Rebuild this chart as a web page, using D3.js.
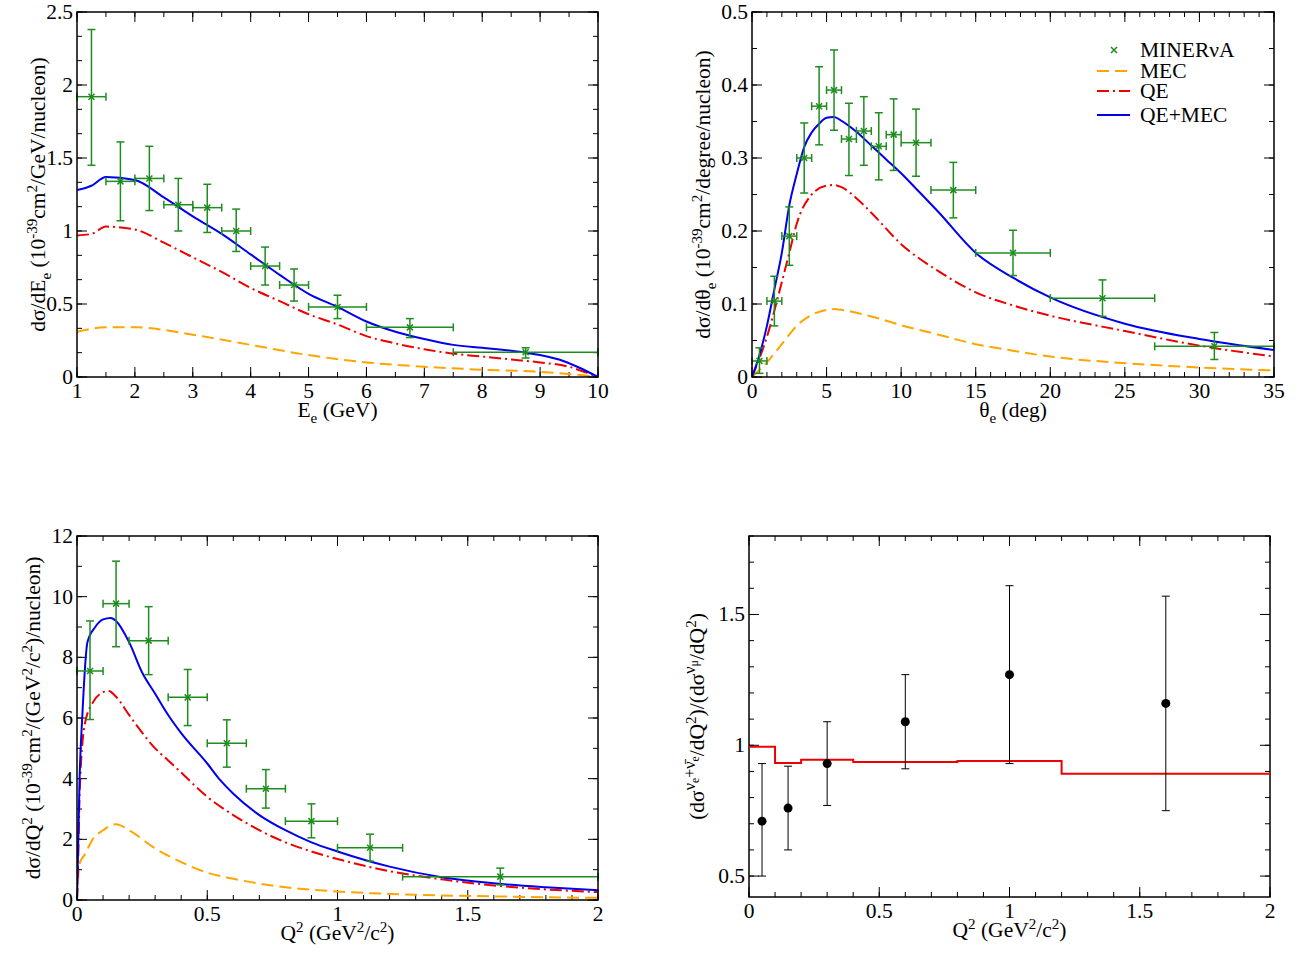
<!DOCTYPE html>
<html><head><meta charset="utf-8">
<script src="https://cdn.jsdelivr.net/npm/d3@7"></script>
<style>
body{margin:0;background:#fff;}
svg text{font-family:"Liberation Serif","Times New Roman","DejaVu Serif",serif;fill:#000;}
</style></head>
<body><svg id="svg" width="1308" height="967"></svg>
<script>
const GREEN = "#1e8c1e", BLUE = "#0000ee", RED = "#ee0000", ORANGE = "#ffa500";
const TICKFONT = 21.5, LABELFONT = 21.5;

// ---- panel 1: dsigma/dE_e
const eData = [[1.25,1.92,1,1.5,1.45,2.38],[1.75,1.34,1.5,2,1.07,1.61],[2.25,1.36,2,2.5,1.14,1.58],
  [2.75,1.18,2.5,3,1.00,1.36],[3.25,1.16,3,3.5,0.99,1.32],[3.75,1.00,3.5,4,0.86,1.15],
  [4.25,0.76,4,4.5,0.63,0.89],[4.75,0.63,4.5,5,0.52,0.74],[5.5,0.48,5,6,0.40,0.56],
  [6.75,0.34,6,7.5,0.27,0.40],[8.75,0.17,7.5,10,0.13,0.20]];
const eTot = [[1,1.28],[1.25,1.31],[1.5,1.37],[2,1.35],[2.5,1.23],[3,1.10],[3.5,0.98],[4,0.84],[4.5,0.70],
  [5,0.57],[5.5,0.48],[6,0.38],[6.5,0.31],[7,0.26],[7.5,0.22],[8,0.20],[8.5,0.18],[9,0.15],[9.4,0.11],[9.7,0.06],[10,0]];
const eQE = [[1,0.97],[1.25,0.98],[1.5,1.03],[2,1.01],[2.5,0.92],[3,0.82],[3.5,0.72],[4,0.61],[4.5,0.52],
  [5,0.43],[5.5,0.36],[6,0.28],[6.5,0.23],[7,0.19],[7.5,0.16],[8,0.14],[8.5,0.12],[9,0.10],[9.5,0.07],[9.8,0.03],[10,0]];
const eMEC = [[1,0.31],[1.5,0.34],[2,0.34],[3,0.29],[4,0.22],[5,0.15],[6,0.10],[7,0.07],[8,0.05],[9,0.035],[9.5,0.02],[10,0]];

// ---- panel 2: dsigma/dtheta_e
const tData = [[0.5,0.022,0,1,0.005,0.04],[1.5,0.104,1,2,0.07,0.138],[2.5,0.193,2,3,0.153,0.233],
  [3.5,0.300,3,4,0.252,0.348],[4.5,0.371,4,5,0.318,0.425],[5.5,0.393,5,6,0.338,0.448],
  [6.5,0.326,6,7,0.276,0.375],[7.5,0.337,7,8,0.290,0.384],[8.5,0.316,8,9,0.270,0.362],
  [9.5,0.332,9,10,0.283,0.381],[11,0.321,10,12,0.275,0.367],[13.5,0.256,12,15,0.218,0.294],
  [17.5,0.170,15,20,0.139,0.201],[23.5,0.108,20,27,0.083,0.133],[31,0.042,27,35,0.024,0.061]];
const tTot = [[0,0],[0.5,0.03],[1,0.07],[1.5,0.12],[2,0.17],[2.5,0.235],[3,0.278],[3.5,0.315],[4,0.335],[4.5,0.347],
  [5,0.355],[5.5,0.356],[6,0.351],[7,0.336],[8,0.317],[9,0.298],[10,0.279],[11,0.258],[12.5,0.226],[15,0.17],
  [17.5,0.136],[20,0.109],[25,0.073],[30,0.052],[35,0.037]];
const tQE = [[0,0],[1,0.055],[2,0.13],[2.5,0.17],[3,0.21],[4,0.25],[5,0.262],[5.5,0.263],[6,0.26],[7,0.245],
  [8,0.225],[10,0.182],[12.5,0.145],[15,0.116],[17.5,0.098],[20,0.084],[25,0.063],[30,0.043],[35,0.028]];
const tMEC = [[0,0],[1,0.02],[2,0.045],[3,0.07],[4,0.085],[5,0.092],[5.5,0.093],[6,0.092],[8,0.083],[10,0.071],
  [12.5,0.058],[15,0.045],[17.5,0.036],[20,0.028],[25,0.019],[30,0.013],[35,0.009]];

// ---- panel 3: dsigma/dQ2
const qData = [[0.05,7.55,0,0.1,5.95,9.2],[0.15,9.77,0.1,0.2,8.35,11.17],[0.275,8.55,0.2,0.35,7.43,9.67],
  [0.425,6.68,0.35,0.5,5.75,7.6],[0.575,5.17,0.5,0.65,4.38,5.94],[0.725,3.67,0.65,0.8,3.03,4.3],
  [0.9,2.6,0.8,1.0,2.05,3.17],[1.125,1.72,1,1.25,1.28,2.17],[1.625,0.77,1.25,2,0.5,1.05]];
const qTot = [[0,0],[0.005,2],[0.01,4],[0.02,6],[0.04,8.5],[0.07,9.0],[0.1,9.25],[0.13,9.3],[0.15,9.2],[0.2,8.5],
  [0.25,7.5],[0.3,6.8],[0.35,6.1],[0.4,5.5],[0.5,4.5],[0.55,3.95],[0.6,3.5],[0.7,2.8],[0.8,2.3],[0.9,1.9],[1,1.6],
  [1.2,1.1],[1.4,0.75],[1.6,0.55],[1.8,0.42],[2,0.32]];
const qQE = [[0,0],[0.005,1.5],[0.01,3.5],[0.03,5.8],[0.06,6.5],[0.1,6.85],[0.12,6.9],[0.15,6.7],[0.2,6.1],
  [0.3,5.0],[0.35,4.6],[0.4,4.2],[0.5,3.4],[0.6,2.8],[0.7,2.3],[0.8,1.9],[0.9,1.6],[1,1.35],[1.2,0.95],
  [1.4,0.68],[1.6,0.48],[1.8,0.35],[2,0.26]];
const qMEC = [[0,0],[0.01,1.2],[0.03,1.5],[0.06,2.0],[0.1,2.3],[0.15,2.5],[0.2,2.3],[0.3,1.7],[0.4,1.25],
  [0.5,0.9],[0.6,0.7],[0.8,0.42],[1,0.28],[1.2,0.2],[1.4,0.15],[1.6,0.12],[1.8,0.09],[2,0.07]];

// ---- panel 4: ratio
const rData = [[0.05,0.71,0.5,0.93],[0.15,0.76,0.6,0.92],[0.3,0.93,0.77,1.09],[0.6,1.09,0.91,1.27],
  [1.0,1.27,0.93,1.61],[1.6,1.16,0.75,1.57]];
const rBins = [0,0.1,0.2,0.4,0.8,1.2,2];
const rVals = [0.994,0.932,0.945,0.936,0.94,0.891];

const legendNames = ["MINERνA","MEC","QE","QE+MEC"];

const svg = d3.select("#svg");

function richText(g, parts, size) {
  // parts: [text, offset(px, negative = up), scale]
  const t = g.append("text").attr("font-size", size);
  let cur = 0;
  parts.forEach(([s, off, sc]) => {
    t.append("tspan").attr("dy", off - cur).attr("font-size", size * (sc || 1)).text(s);
    cur = off;
  });
  return t;
}

function panel(o) {
  const x = d3.scaleLinear().domain(o.xd).range([o.l, o.r]);
  const y = d3.scaleLinear().domain(o.yd).range([o.b, o.t]);
  const g = svg.append("g");
  const clipId = "c" + Math.round(o.l) + Math.round(o.t);
  g.append("clipPath").attr("id", clipId).append("rect")
    .attr("x", o.l).attr("y", o.t).attr("width", o.r - o.l).attr("height", o.b - o.t);

  // ticks on all sides, pointing inward
  const tk = (vals, len, axis) => vals.forEach(v => {
    if (axis === "x") {
      const px = x(v);
      g.append("line").attr("x1", px).attr("x2", px).attr("y1", o.b).attr("y2", o.b - len).attr("stroke", "#000");
      g.append("line").attr("x1", px).attr("x2", px).attr("y1", o.t).attr("y2", o.t + len).attr("stroke", "#000");
    } else {
      const py = y(v);
      g.append("line").attr("y1", py).attr("y2", py).attr("x1", o.l).attr("x2", o.l + len).attr("stroke", "#000");
      g.append("line").attr("y1", py).attr("y2", py).attr("x1", o.r).attr("x2", o.r - len).attr("stroke", "#000");
    }
  });
  const rng = (a, b, s) => d3.range(Math.ceil(a / s - 1e-6), Math.floor(b / s + 1e-6) + 1).map(i => +(i * s).toFixed(6));
  tk(rng(o.xd[0], o.xd[1], o.xminor), 5, "x");
  tk(rng(o.xd[0], o.xd[1], o.xmajor), 10, "x");
  tk(rng(o.yd[0], o.yd[1], o.yminor), 5, "y");
  tk(rng(o.yd[0], o.yd[1], o.ymajor), 10, "y");

  rng(o.xd[0], o.xd[1], o.xmajor).forEach(v => {
    g.append("text").attr("x", x(v)).attr("y", o.b + 21).attr("text-anchor", "middle")
      .attr("font-size", TICKFONT).text(d3.format("~g")(v));
  });
  rng(o.yd[0], o.yd[1], o.ymajor).forEach(v => {
    g.append("text").attr("x", o.l - 4).attr("y", y(v) + 7).attr("text-anchor", "end")
      .attr("font-size", TICKFONT).text(d3.format("~g")(v));
  });

  const plot = g.append("g").attr("clip-path", `url(#${clipId})`);
  const line = d3.line().x(d => x(d[0])).y(d => y(d[1])).curve(d3.curveMonotoneX);
  if (o.mec) plot.append("path").attr("d", line(o.mec)).attr("fill", "none").attr("stroke", ORANGE)
    .attr("stroke-width", 2).attr("stroke-dasharray", "12,6");
  if (o.qe) plot.append("path").attr("d", line(o.qe)).attr("fill", "none").attr("stroke", RED)
    .attr("stroke-width", 2).attr("stroke-dasharray", "12,4,2,4");
  if (o.tot) plot.append("path").attr("d", line(o.tot)).attr("fill", "none").attr("stroke", BLUE).attr("stroke-width", 2);

  if (o.data) {
    const dg = g.append("g").attr("stroke", GREEN).attr("stroke-width", 1.5);
    o.data.forEach(d => {
      const cx = x(d[0]), cy = y(d[1]);
      dg.append("line").attr("x1", x(d[2])).attr("x2", x(d[3])).attr("y1", cy).attr("y2", cy);
      dg.append("line").attr("x1", cx).attr("x2", cx).attr("y1", y(d[4])).attr("y2", y(d[5]));
      [d[2], d[3]].forEach(v => dg.append("line").attr("x1", x(v)).attr("x2", x(v)).attr("y1", cy - 4).attr("y2", cy + 4));
      [d[4], d[5]].forEach(v => dg.append("line").attr("x1", cx - 4).attr("x2", cx + 4).attr("y1", y(v)).attr("y2", y(v)));
      dg.append("path").attr("d", `M${cx - 3},${cy - 3}L${cx + 3},${cy + 3}M${cx - 3},${cy + 3}L${cx + 3},${cy - 3}`);
    });
  }

  g.append("rect").attr("x", o.l).attr("y", o.t).attr("width", o.r - o.l).attr("height", o.b - o.t)
    .attr("fill", "none").attr("stroke", "#000").attr("stroke-width", 1.5);

  richText(g, o.xlabel, LABELFONT).attr("x", (o.l + o.r) / 2).attr("y", o.b + 40).attr("text-anchor", "middle");
  const yg = g.append("g").attr("transform", `translate(${o.ylx},${(o.t + o.b) / 2}) rotate(-90)`);
  richText(yg, o.ylabel, LABELFONT).attr("text-anchor", "middle");
  return { x, y, g };
}

panel({ l: 77, r: 598, t: 12, b: 377, xd: [1, 10], yd: [0, 2.5], xmajor: 1, xminor: 0.5, ymajor: 0.5, yminor: 0.5 / 3,
  data: eData, tot: eTot, qe: eQE, mec: eMEC, ylx: 45,
  xlabel: [["E", 0], ["e", 6, 0.7], [" (GeV)", 0]],
  ylabel: [["dσ/dE", 0], ["e", 6, 0.7], [" (10", 0], ["-39", -8, 0.7], ["cm", 0], ["2", -8, 0.7], ["/GeV/nucleon)", 0]] });

panel({ l: 752, r: 1274, t: 12, b: 377, xd: [0, 35], yd: [0, 0.5], xmajor: 5, xminor: 1, ymajor: 0.1, yminor: 0.05,
  data: tData, tot: tTot, qe: tQE, mec: tMEC, ylx: 710,
  xlabel: [["θ", 0], ["e", 6, 0.7], [" (deg)", 0]],
  ylabel: [["dσ/dθ", 0], ["e", 6, 0.7], [" (10", 0], ["-39", -8, 0.7], ["cm", 0], ["2", -8, 0.7], ["/degree/nucleon)", 0]] });

panel({ l: 77, r: 598, t: 536, b: 900, xd: [0, 2], yd: [0, 12], xmajor: 0.5, xminor: 0.1, ymajor: 2, yminor: 1,
  data: qData, tot: qTot, qe: qQE, mec: qMEC, ylx: 40,
  xlabel: [["Q", 0], ["2", -8, 0.7], [" (GeV", 0], ["2", -8, 0.7], ["/c", 0], ["2", -8, 0.7], [")", 0]],
  ylabel: [["dσ/dQ", 0], ["2", -8, 0.7], [" (10", 0], ["-39", -8, 0.7], ["cm", 0], ["2", -8, 0.7], ["/(GeV", 0],
    ["2", -8, 0.7], ["/c", 0], ["2", -8, 0.7], [")/nucleon)", 0]] });

const p4 = panel({ l: 749, r: 1270, t: 536, b: 897, xd: [0, 2], yd: [0.42, 1.8], xmajor: 0.5, xminor: 0.1, ymajor: 0.5, yminor: 0.1,
  ylx: 704,
  xlabel: [["Q", 0], ["2", -8, 0.7], [" (GeV", 0], ["2", -8, 0.7], ["/c", 0], ["2", -8, 0.7], [")", 0]],
  ylabel: [["(dσ", 0], ["ν", -9, 0.75], ["e", -5, 0.55], ["+", -9, 0.75], ["ν̄", -9, 0.75], ["e", -5, 0.55], ["/dQ", 0],
    ["2", -8, 0.7], [")/(dσ", 0], ["ν", -9, 0.75], ["μ", -6, 0.55], ["/dQ", 0], ["2", -8, 0.7], [")", 0]] });

// ratio panel: step prediction and black points
const stepPts = [];
rVals.forEach((v, i) => { stepPts.push([rBins[i], v]); stepPts.push([rBins[i + 1], v]); });
p4.g.append("path").attr("d", d3.line().x(d => p4.x(d[0])).y(d => p4.y(d[1]))(stepPts))
  .attr("fill", "none").attr("stroke", RED).attr("stroke-width", 2);
rData.forEach(d => {
  const cx = p4.x(d[0]);
  p4.g.append("line").attr("x1", cx).attr("x2", cx).attr("y1", p4.y(d[2])).attr("y2", p4.y(d[3])).attr("stroke", "#000");
  [d[2], d[3]].forEach(v => p4.g.append("line").attr("x1", cx - 4).attr("x2", cx + 4)
    .attr("y1", p4.y(v)).attr("y2", p4.y(v)).attr("stroke", "#000"));
  p4.g.append("circle").attr("cx", cx).attr("cy", p4.y(d[1])).attr("r", 4.5).attr("fill", "#000");
});

// legend in panel 2
const lg = svg.append("g");
const ly = [50, 71, 91, 115];
legendNames.forEach((name, i) => {
  lg.append("text").attr("x", 1140).attr("y", ly[i] + 7).attr("font-size", TICKFONT).text(name);
});
lg.append("path").attr("d", `M1111,47L1117,53M1111,53L1117,47`).attr("stroke", GREEN).attr("stroke-width", 1.5);
lg.append("line").attr("x1", 1097).attr("x2", 1130).attr("y1", ly[1]).attr("y2", ly[1])
  .attr("stroke", ORANGE).attr("stroke-width", 2).attr("stroke-dasharray", "12,6");
lg.append("line").attr("x1", 1097).attr("x2", 1130).attr("y1", ly[2]).attr("y2", ly[2])
  .attr("stroke", RED).attr("stroke-width", 2).attr("stroke-dasharray", "12,4,2,4");
lg.append("line").attr("x1", 1097).attr("x2", 1130).attr("y1", ly[3]).attr("y2", ly[3])
  .attr("stroke", BLUE).attr("stroke-width", 2);
</script></body></html>
